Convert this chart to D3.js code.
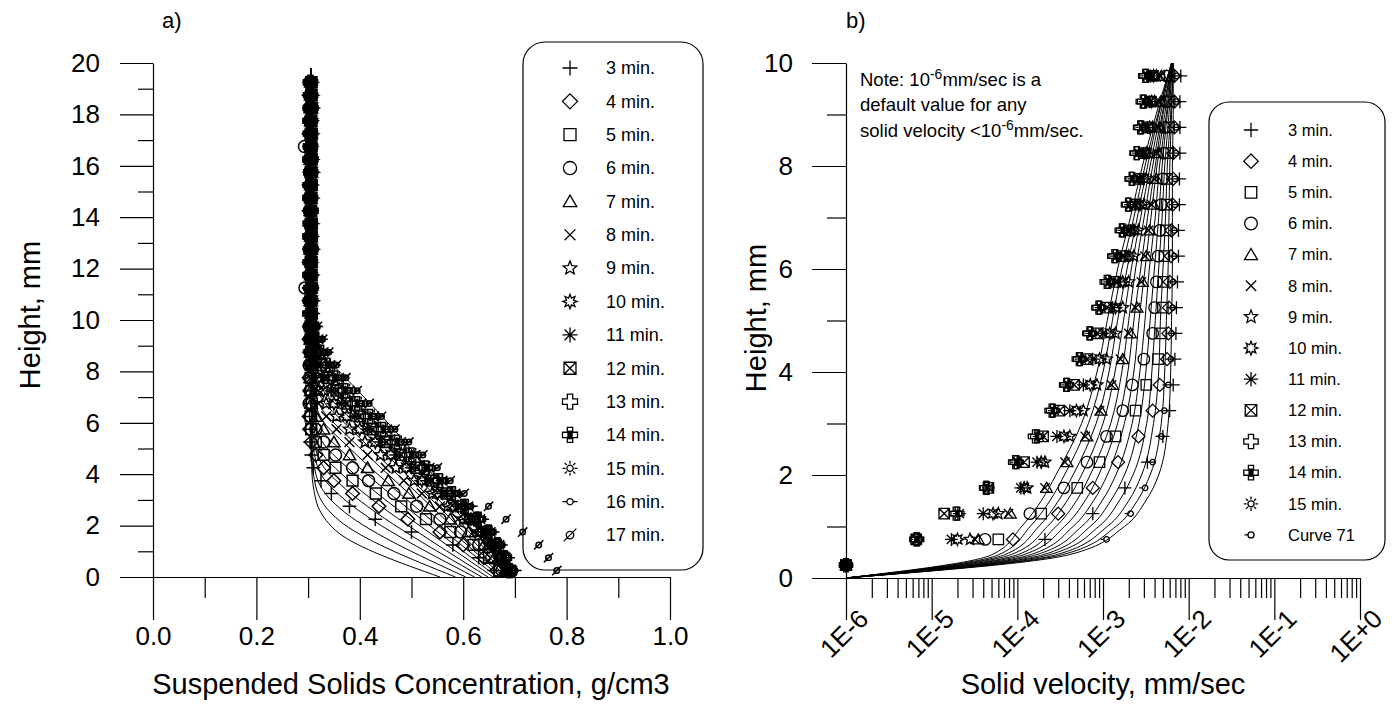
<!DOCTYPE html>
<html>
<head>
<meta charset="utf-8">
<title>Settling profiles</title>
<style>
  body { margin: 0; background: #fff; }
  svg { font-family: "Liberation Sans", Arial, sans-serif; }
  svg text { fill: #000; }
  .axis path, .axis line { stroke: #000; stroke-width: 1.2; }
  .curve { fill: none; stroke: #000; stroke-width: 1; }
  .mark { fill: none; stroke: #000; stroke-width: 1.3; }
  .plot-a .mark { stroke-width: 1.5; }
  .legend-box { fill: none; stroke: #000; stroke-width: 1.2; }
</style>
</head>
<body>
<svg id="chart" width="1392" height="706"></svg>
<script src="https://d3js.org/d3.v7.min.js"></script>
<script>
// ---------- panel a: concentration profiles (g/cm3) at each height (mm)
var heightsA = [0.25, 0.75, 1.25, 1.75, 2.25, 2.75, 3.25, 3.75, 4.25, 4.75,
                5.25, 5.75, 6.25, 6.75, 7.25, 7.75, 8.25, 8.75, 9.25, 9.75,
                10.25, 10.75, 11.25, 11.75, 12.25, 12.75, 13.25, 13.75, 14.25, 14.75,
                15.25, 15.75, 16.25, 16.75, 17.25, 17.75, 18.25, 18.75, 19.25];
var seriesA = ["3 min.", "4 min.", "5 min.", "6 min.", "7 min.", "8 min.", "9 min.", "10 min.",
               "11 min.", "12 min.", "13 min.", "14 min.", "15 min.", "16 min.", "17 min."];
var shapesA = ["plus", "diamond", "square", "circle", "triangle", "cross", "star", "burst",
               "asterisk", "squareX", "crossOpen", "crossFilled", "sun", "dotDash", "slash"];

var conc3 = [0.66, 0.63, 0.58, 0.50, 0.43, 0.38, 0.345, 0.325, 0.31, 0.306,
             0.304, 0.305, 0.303, 0.305, 0.304, 0.306, 0.305, 0.304, 0.305, 0.303,
             0.305, 0.304, 0.306, 0.305, 0.303, 0.305, 0.304, 0.305, 0.306, 0.304,
             0.305, 0.303, 0.305, 0.304, 0.306, 0.305, 0.304, 0.305, 0.305];
var conc4 = [0.665, 0.64, 0.60, 0.555, 0.493, 0.437, 0.386, 0.35, 0.33, 0.315,
             0.306, 0.303, 0.302, 0.304, 0.303, 0.302, 0.304, 0.303, 0.302, 0.303,
             0.304, 0.302, 0.303, 0.304, 0.302, 0.303, 0.303, 0.304, 0.302, 0.303,
             0.302, 0.304, 0.303, 0.303, 0.302, 0.304, 0.303, 0.302, 0.303];
var conc5 = [0.67, 0.65, 0.62, 0.575, 0.528, 0.48, 0.431, 0.386, 0.353, 0.33,
             0.315, 0.306, 0.305, 0.307, 0.306, 0.305, 0.307, 0.306, 0.305, 0.306,
             0.307, 0.305, 0.306, 0.306, 0.307, 0.305, 0.306, 0.307, 0.305, 0.306,
             0.306, 0.305, 0.307, 0.306, 0.305, 0.306, 0.307, 0.306, 0.306];
var conc6 = [0.675, 0.655, 0.63, 0.595, 0.555, 0.51, 0.466, 0.417, 0.386, 0.353,
             0.33, 0.315, 0.305, 0.302, 0.304, 0.303, 0.302, 0.304, 0.303, 0.302,
             0.304, 0.303, 0.294, 0.303, 0.304, 0.302, 0.303, 0.304, 0.303, 0.302,
             0.304, 0.303, 0.302, 0.293, 0.304, 0.303, 0.302, 0.304, 0.303];
var conc7 = [0.68, 0.66, 0.64, 0.61, 0.575, 0.535, 0.495, 0.455, 0.415, 0.38,
             0.35, 0.33, 0.315, 0.306, 0.305, 0.304, 0.306, 0.305, 0.304, 0.305,
             0.306, 0.304, 0.305, 0.305, 0.306, 0.304, 0.305, 0.306, 0.304, 0.305,
             0.305, 0.306, 0.304, 0.305, 0.306, 0.305, 0.304, 0.305, 0.305];
var conc8 = [0.68, 0.665, 0.645, 0.62, 0.59, 0.555, 0.52, 0.485, 0.45, 0.415,
             0.38, 0.355, 0.335, 0.32, 0.31, 0.305, 0.306, 0.307, 0.305, 0.306,
             0.307, 0.306, 0.305, 0.307, 0.306, 0.305, 0.306, 0.307, 0.306, 0.305,
             0.306, 0.307, 0.305, 0.306, 0.306, 0.307, 0.305, 0.306, 0.306];
var conc9 = [0.685, 0.67, 0.65, 0.63, 0.60, 0.57, 0.54, 0.505, 0.47, 0.44,
             0.41, 0.38, 0.355, 0.335, 0.32, 0.31, 0.305, 0.304, 0.306, 0.305,
             0.304, 0.306, 0.305, 0.304, 0.305, 0.306, 0.304, 0.305, 0.306, 0.305,
             0.304, 0.305, 0.306, 0.305, 0.304, 0.306, 0.305, 0.304, 0.305];
var conc10 = [0.685, 0.672, 0.655, 0.635, 0.61, 0.58, 0.55, 0.52, 0.49, 0.46,
              0.43, 0.40, 0.375, 0.35, 0.33, 0.318, 0.31, 0.306, 0.308, 0.307,
              0.308, 0.309, 0.307, 0.308, 0.306, 0.309, 0.307, 0.308, 0.306, 0.308,
              0.307, 0.309, 0.308, 0.306, 0.308, 0.307, 0.309, 0.308, 0.307];
var conc11 = [0.69, 0.675, 0.66, 0.64, 0.615, 0.59, 0.56, 0.53, 0.50, 0.47,
              0.44, 0.415, 0.39, 0.365, 0.345, 0.33, 0.318, 0.31, 0.306, 0.305,
              0.306, 0.305, 0.304, 0.306, 0.305, 0.304, 0.306, 0.305, 0.304, 0.306,
              0.305, 0.304, 0.306, 0.305, 0.304, 0.305, 0.306, 0.305, 0.305];
var conc12 = [0.69, 0.678, 0.663, 0.645, 0.62, 0.595, 0.568, 0.54, 0.51, 0.48,
              0.452, 0.425, 0.40, 0.375, 0.355, 0.338, 0.325, 0.315, 0.308, 0.305,
              0.306, 0.305, 0.307, 0.306, 0.305, 0.306, 0.307, 0.305, 0.306, 0.305,
              0.307, 0.306, 0.305, 0.306, 0.307, 0.305, 0.306, 0.306, 0.306];
var conc13 = [0.69, 0.68, 0.665, 0.648, 0.625, 0.60, 0.575, 0.548, 0.52, 0.49,
              0.462, 0.435, 0.41, 0.385, 0.363, 0.345, 0.33, 0.32, 0.312, 0.306,
              0.303, 0.304, 0.305, 0.303, 0.304, 0.305, 0.303, 0.304, 0.305, 0.303,
              0.304, 0.305, 0.303, 0.304, 0.305, 0.303, 0.304, 0.305, 0.304];
var conc14 = [0.69, 0.68, 0.667, 0.65, 0.63, 0.605, 0.58, 0.555, 0.528, 0.50,
              0.472, 0.445, 0.42, 0.395, 0.372, 0.352, 0.337, 0.325, 0.316, 0.309,
              0.304, 0.305, 0.306, 0.305, 0.304, 0.306, 0.305, 0.304, 0.306, 0.305,
              0.304, 0.305, 0.306, 0.305, 0.304, 0.305, 0.306, 0.305, 0.305];
var conc15 = [0.695, 0.683, 0.67, 0.653, 0.633, 0.61, 0.585, 0.56, 0.535, 0.508,
              0.48, 0.453, 0.428, 0.403, 0.38, 0.36, 0.343, 0.33, 0.32, 0.312,
              0.306, 0.302, 0.305, 0.306, 0.305, 0.307, 0.306, 0.305, 0.307, 0.306,
              0.305, 0.306, 0.307, 0.305, 0.306, 0.305, 0.307, 0.306, 0.306];
var conc16 = [0.70, 0.687, 0.673, 0.657, 0.637, 0.615, 0.59, 0.566, 0.54, 0.514,
              0.487, 0.46, 0.435, 0.41, 0.387, 0.367, 0.35, 0.336, 0.325, 0.316,
              0.309, 0.304, 0.301, 0.304, 0.305, 0.303, 0.304, 0.305, 0.303, 0.304,
              0.305, 0.303, 0.304, 0.305, 0.303, 0.304, 0.305, 0.304, 0.304];
var conc17 = [0.781, 0.765, 0.746, 0.715, 0.683, 0.649, 0.602, 0.575, 0.55, 0.522,
              0.495, 0.468, 0.442, 0.418, 0.395, 0.373, 0.355, 0.34, 0.328, 0.318,
              0.31, 0.305, 0.302, 0.304, 0.303, 0.305, 0.304, 0.303, 0.305, 0.304,
              0.303, 0.305, 0.304, 0.303, 0.305, 0.304, 0.303, 0.305, 0.304];
var concA = [conc3, conc4, conc5, conc6, conc7, conc8, conc9, conc10, conc11,
             conc12, conc13, conc14, conc15, conc16, conc17];

// model curves in panel a, [concentration, height] pairs
var curveA0 = [[0.555, 0], [0.36, 1.7], [0.335, 2.2], [0.32, 2.7], [0.312, 3.3], [0.307, 4.3], [0.305, 19.8]];
var curveA1 = [[0.585, 0], [0.36, 2.2], [0.335, 2.7], [0.32, 3.2], [0.312, 3.8], [0.307, 4.8], [0.305, 19.8]];
var curveA2 = [[0.605, 0], [0.36, 2.7], [0.335, 3.2], [0.32, 3.7], [0.312, 4.3], [0.307, 5.3], [0.305, 19.8]];
var curveA3 = [[0.622, 0], [0.36, 3.2], [0.335, 3.7], [0.32, 4.2], [0.312, 4.8], [0.307, 5.8], [0.305, 19.8]];
var curveA4 = [[0.636, 0], [0.36, 3.65], [0.335, 4.15], [0.32, 4.65], [0.312, 5.25], [0.307, 6.25], [0.305, 19.8]];
var curveA5 = [[0.648, 0], [0.36, 4.1], [0.335, 4.6], [0.32, 5.1], [0.312, 5.7], [0.307, 6.7], [0.305, 19.8]];
var curveA6 = [[0.658, 0], [0.36, 4.55], [0.335, 5.05], [0.32, 5.55], [0.312, 6.15], [0.307, 7.15], [0.305, 19.8]];
var curveA7 = [[0.666, 0], [0.36, 5.0], [0.335, 5.5], [0.32, 6.0], [0.312, 6.6], [0.307, 7.6], [0.305, 19.8]];
var curveA8 = [[0.673, 0], [0.36, 5.4], [0.335, 5.9], [0.32, 6.4], [0.312, 7.0], [0.307, 8.0], [0.305, 19.8]];
var curveA9 = [[0.679, 0], [0.36, 5.8], [0.335, 6.3], [0.32, 6.8], [0.312, 7.4], [0.307, 8.4], [0.305, 19.8]];
var curveA10 = [[0.684, 0], [0.36, 6.2], [0.335, 6.7], [0.32, 7.2], [0.312, 7.8], [0.307, 8.8], [0.305, 19.8]];
var curveA11 = [[0.689, 0], [0.36, 6.6], [0.335, 7.1], [0.32, 7.6], [0.312, 8.2], [0.307, 9.2], [0.305, 19.8]];
var curveA12 = [[0.693, 0], [0.36, 7.0], [0.335, 7.5], [0.32, 8.0], [0.312, 8.6], [0.307, 9.6], [0.305, 19.8]];
var curveA13 = [[0.697, 0], [0.36, 7.5], [0.335, 8.0], [0.32, 8.5], [0.312, 9.1], [0.307, 10.1], [0.305, 19.8]];
var curveA14 = [[0.70, 0], [0.36, 8.0], [0.335, 8.5], [0.32, 9.0], [0.312, 9.6], [0.307, 10.6], [0.305, 19.8]];
var curvesA = [curveA0, curveA1, curveA2, curveA3, curveA4, curveA5, curveA6, curveA7,
               curveA8, curveA9, curveA10, curveA11, curveA12, curveA13, curveA14];

var ticksXA = [0, 0.2, 0.4, 0.6, 0.8, 1.0];
var minorXA = [0.1, 0.3, 0.5, 0.7, 0.9];
var ticksYA = [0, 2, 4, 6, 8, 10, 12, 14, 16, 18, 20];
var minorYA = [1, 3, 5, 7, 9, 11, 13, 15, 17, 19];

// ---------- panel b: solid velocity (mm/sec) at each height (mm)
var heightsB = [0.25, 0.75, 1.25, 1.75, 2.25, 2.75, 3.25, 3.75, 4.25, 4.75,
                5.25, 5.75, 6.25, 6.75, 7.25, 7.75, 8.25, 8.75, 9.25, 9.75];
var seriesB = ["3 min.", "4 min.", "5 min.", "6 min.", "7 min.", "8 min.", "9 min.", "10 min.",
               "11 min.", "12 min.", "13 min.", "14 min.", "15 min.", "Curve 71"];
var shapesB = ["plus", "diamond", "square", "circle", "triangle", "cross", "star", "burst",
               "asterisk", "squareX", "crossOpen", "crossFilled", "sun", "dot"];

var vel3 = [1e-6, 2.1e-4, 7.6e-4, 1.8e-3, 3.3e-3, 5.0e-3, 6.0e-3, 6.6e-3, 6.9e-3, 7.1e-3,
            7.2e-3, 7.4e-3, 7.6e-3, 7.6e-3, 7.8e-3, 7.8e-3, 7.9e-3, 7.9e-3, 7.9e-3, 8.1e-3];
var vel4 = [1e-6, 8.9e-5, 3.0e-4, 7.6e-4, 1.5e-3, 2.6e-3, 3.8e-3, 4.6e-3, 5.6e-3, 5.8e-3,
            5.9e-3, 6.0e-3, 6.2e-3, 6.3e-3, 6.5e-3, 6.6e-3, 6.6e-3, 6.8e-3, 6.8e-3, 6.8e-3];
var vel5 = [1e-6, 6.0e-5, 1.9e-4, 5.0e-4, 9.1e-4, 1.4e-3, 2.4e-3, 3.2e-3, 4.4e-3, 4.8e-3,
            5.0e-3, 5.1e-3, 5.2e-3, 5.4e-3, 5.5e-3, 5.6e-3, 5.8e-3, 5.9e-3, 6.0e-3, 6.0e-3];
var vel6 = [1e-6, 4.2e-5, 1.4e-4, 3.5e-4, 6.5e-4, 1.1e-3, 1.7e-3, 2.2e-3, 3.0e-3, 3.8e-3,
            4.0e-3, 4.2e-3, 4.4e-3, 4.6e-3, 4.8e-3, 5.0e-3, 5.1e-3, 5.2e-3, 5.4e-3, 5.5e-3];
var vel7 = [1e-6, 3.5e-5, 8.3e-5, 2.2e-4, 3.8e-4, 6.5e-4, 9.5e-4, 1.3e-3, 1.7e-3, 2.1e-3,
            2.5e-3, 2.9e-3, 3.2e-3, 3.5e-3, 3.9e-3, 4.2e-3, 4.4e-3, 4.6e-3, 4.7e-3, 4.8e-3];
var vel8 = [1e-6, 3.2e-5, 7.9e-5, 2.1e-4, 3.6e-4, 6.2e-4, 9.1e-4, 1.26e-3, 1.6e-3, 2.0e-3,
            2.4e-3, 2.8e-3, 3.1e-3, 3.4e-3, 3.7e-3, 4.0e-3, 4.3e-3, 4.5e-3, 4.6e-3, 4.7e-3];
var vel9 = [1e-6, 2.8e-5, 6.0e-5, 1.3e-4, 2.1e-4, 4.1e-4, 5.9e-4, 8.5e-4, 1.1e-3, 1.4e-3,
            1.7e-3, 2.0e-3, 2.3e-3, 2.6e-3, 3.0e-3, 3.2e-3, 3.5e-3, 3.8e-3, 4.0e-3, 4.2e-3];
var vel10 = [1e-6, 2.0e-5, 5.2e-5, 1.2e-4, 1.9e-4, 3.5e-4, 4.9e-4, 7.1e-4, 9.1e-4, 1.2e-3,
             1.4e-3, 1.7e-3, 2.0e-3, 2.3e-3, 2.7e-3, 3.0e-3, 3.2e-3, 3.5e-3, 3.7e-3, 3.9e-3];
var vel11 = [1e-6, 1.7e-5, 4.0e-5, 1.1e-4, 1.7e-4, 2.9e-4, 4.1e-4, 5.9e-4, 7.6e-4, 1.0e-3,
             1.3e-3, 1.5e-3, 1.8e-3, 2.1e-3, 2.4e-3, 2.7e-3, 3.0e-3, 3.3e-3, 3.5e-3, 3.6e-3];
var vel12 = [1e-6, 6.6e-6, 1.4e-5, 4.6e-5, 1.2e-4, 2.0e-4, 3.1e-4, 4.6e-4, 6.5e-4, 8.5e-4,
             1.1e-3, 1.4e-3, 1.7e-3, 2.0e-3, 2.4e-3, 2.6e-3, 3.0e-3, 3.3e-3, 3.6e-3, 3.8e-3];
var vel13 = [1e-6, 6.6e-6, 1.9e-5, 4.3e-5, 9.4e-5, 1.6e-4, 2.5e-4, 3.7e-4, 5.2e-4, 6.9e-4,
             8.8e-4, 1.1e-3, 1.35e-3, 1.65e-3, 1.95e-3, 2.15e-3, 2.45e-3, 2.7e-3, 2.9e-3, 3.1e-3];
var vel14 = [1e-6, 6.8e-6, 2.0e-5, 4.4e-5, 9.8e-5, 1.7e-4, 2.6e-4, 3.8e-4, 5.4e-4, 7.1e-4,
             9.1e-4, 1.15e-3, 1.4e-3, 1.7e-3, 2.0e-3, 2.2e-3, 2.5e-3, 2.8e-3, 3.0e-3, 3.2e-3];
var vel15 = [1e-6, 6.8e-6, 2.1e-5, 4.6e-5, 1.0e-4, 1.8e-4, 2.7e-4, 3.9e-4, 5.6e-4, 7.4e-4,
             9.5e-4, 1.2e-3, 1.45e-3, 1.75e-3, 2.1e-3, 2.3e-3, 2.6e-3, 2.9e-3, 3.1e-3, 3.3e-3];
var velC71 = [1e-6, 1.1e-3, 2.1e-3, 3.1e-3, 3.8e-3, 4.8e-3, 5.2e-3, 5.8e-3, 6.2e-3, 6.3e-3,
              6.5e-3, 6.6e-3, 6.8e-3, 6.8e-3, 6.9e-3, 6.9e-3, 7.1e-3, 7.1e-3, 7.1e-3, 7.2e-3];
var velB = [vel3, vel4, vel5, vel6, vel7, vel8, vel9, vel10, vel11, vel12, vel13, vel14, vel15, velC71];

// model curves in panel b: log10 of velocity at these heights
var curveHeightsB = [0, 0.45, 1, 1.5, 2, 3, 4, 5, 6, 7, 8, 9, 10];
var curveLogB0 = [-6, -4.30, -3.95, -3.72, -3.55, -3.25, -3.07, -2.95, -2.83, -2.68, -2.54, -2.38, -2.20];
var curveLogB1 = [-6, -4.22, -3.85, -3.62, -3.45, -3.17, -3.00, -2.89, -2.78, -2.64, -2.51, -2.36, -2.20];
var curveLogB2 = [-6, -4.15, -3.75, -3.52, -3.35, -3.08, -2.93, -2.83, -2.72, -2.60, -2.48, -2.35, -2.20];
var curveLogB3 = [-6, -4.08, -3.65, -3.42, -3.25, -3.00, -2.86, -2.76, -2.67, -2.56, -2.45, -2.33, -2.20];
var curveLogB4 = [-6, -4.00, -3.55, -3.31, -3.15, -2.91, -2.78, -2.70, -2.62, -2.52, -2.42, -2.31, -2.19];
var curveLogB5 = [-6, -3.93, -3.45, -3.21, -3.05, -2.83, -2.71, -2.64, -2.56, -2.48, -2.39, -2.30, -2.19];
var curveLogB6 = [-6, -3.85, -3.35, -3.11, -2.95, -2.75, -2.64, -2.58, -2.51, -2.44, -2.37, -2.28, -2.19];
var curveLogB7 = [-6, -3.78, -3.25, -3.01, -2.85, -2.66, -2.57, -2.51, -2.46, -2.39, -2.34, -2.26, -2.19];
var curveLogB8 = [-6, -3.70, -3.15, -2.91, -2.75, -2.58, -2.50, -2.45, -2.40, -2.35, -2.31, -2.25, -2.19];
var curveLogB9 = [-6, -3.63, -3.05, -2.81, -2.65, -2.49, -2.43, -2.39, -2.35, -2.31, -2.28, -2.23, -2.19];
var curveLogB10 = [-6, -3.55, -2.95, -2.70, -2.55, -2.41, -2.35, -2.33, -2.30, -2.27, -2.25, -2.21, -2.18];
var curveLogB11 = [-6, -3.48, -2.85, -2.60, -2.45, -2.32, -2.28, -2.26, -2.24, -2.23, -2.22, -2.20, -2.18];
var curveLogB12 = [-6, -3.40, -2.75, -2.50, -2.35, -2.24, -2.21, -2.20, -2.19, -2.19, -2.19, -2.18, -2.18];
var curvesB = [curveLogB0, curveLogB1, curveLogB2, curveLogB3, curveLogB4, curveLogB5, curveLogB6,
               curveLogB7, curveLogB8, curveLogB9, curveLogB10, curveLogB11, curveLogB12];

var ticksXB = [1e-6, 1e-5, 1e-4, 1e-3, 1e-2, 1e-1, 1];
var tickLabelsXB = ["1E-6", "1E-5", "1E-4", "1E-3", "1E-2", "1E-1", "1E+0"];
var ticksYB = [0, 2, 4, 6, 8, 10];
var minorYB = [1, 3, 5, 7, 9];

// ---------- drawing
var svg = d3.select("#chart");

var xA = d3.scaleLinear().domain([0, 1]).range([153, 670]);
var yA = d3.scaleLinear().domain([0, 20]).range([577, 63]);
var xB = d3.scaleLog().domain([1e-6, 1]).range([846, 1360]);
var yB = d3.scaleLinear().domain([0, 10]).range([578, 63]);

// marker outlines, returns [outline path, filled path or null]
function markShape(type, r) {
  var o = d3.path(), f = d3.path(), hasFill = false;
  var s = r * 0.8, a = r * 0.36, k = r * 0.72;
  function ring(p, rr) { p.moveTo(rr, 0); p.arc(0, 0, rr, 0, 2 * Math.PI); }
  function seg(x1, y1, x2, y2) { o.moveTo(x1, y1); o.lineTo(x2, y2); }
  function poly(pts) {
    o.moveTo(pts[0][0], pts[0][1]);
    for (var i = 1; i < pts.length; i++) o.lineTo(pts[i][0], pts[i][1]);
    o.closePath();
  }
  function star(n, ro, ri) {
    var pts = [];
    for (var i = 0; i < 2 * n; i++) {
      var ang = -Math.PI / 2 + i * Math.PI / n, rr = i % 2 ? ri : ro;
      pts.push([rr * Math.cos(ang), rr * Math.sin(ang)]);
    }
    poly(pts);
  }
  var sq = [[-s, -s], [s, -s], [s, s], [-s, s]];
  var crossPts = [[-a, -r], [a, -r], [a, -a], [r, -a], [r, a], [a, a], [a, r], [-a, r], [-a, a], [-r, a], [-r, -a], [-a, -a]];
  switch (type) {
    case "plus": seg(-r, 0, r, 0); seg(0, -r, 0, r); break;
    case "diamond": poly([[0, -r], [r, 0], [0, r], [-r, 0]]); break;
    case "square": poly(sq); break;
    case "circle": ring(o, r * 0.88); break;
    case "triangle": poly([[0, -r * 0.85], [r * 0.9, r * 0.7], [-r * 0.9, r * 0.7]]); break;
    case "cross": seg(-k, -k, k, k); seg(k, -k, -k, k); break;
    case "star": star(5, r * 0.95, r * 0.42); break;
    case "burst": star(8, r * 0.95, r * 0.5); break;
    case "asterisk":
      seg(-r, 0, r, 0); seg(0, -r, 0, r); seg(-k, -k, k, k); seg(k, -k, -k, k);
      ring(f, r * 0.2); hasFill = true; break;
    case "squareX": poly(sq); seg(-s, -s, s, s); seg(s, -s, -s, s); break;
    case "crossOpen": poly(crossPts); break;
    case "crossFilled": poly(crossPts); f.rect(-a, -a * 1.6, 2 * a, 3.2 * a); hasFill = true; break;
    case "sun":
      ring(o, r * 0.42);
      for (var i = 0; i < 8; i++) {
        var ang = i * Math.PI / 4;
        seg(r * 0.6 * Math.cos(ang), r * 0.6 * Math.sin(ang), r * Math.cos(ang), r * Math.sin(ang));
      }
      break;
    case "dotDash": ring(o, r * 0.42); seg(-r, 0, -r * 0.42, 0); seg(r * 0.42, 0, r, 0); break;
    case "slash": ring(o, r * 0.5); seg(-r * 0.85, r * 0.85, r * 0.85, -r * 0.85); break;
    case "dot": ring(o, r * 0.42); seg(-r * 0.9, 0, -r * 0.42, 0); break;
  }
  return [o.toString(), hasFill ? f.toString() : null];
}

function drawMarks(g, pts, type, r) {
  var shape = markShape(type, r);
  var m = g.selectAll("g.pt").data(pts).join("g").attr("class", "pt")
    .attr("transform", function (d) { return "translate(" + d[0] + "," + d[1] + ")"; });
  m.append("path").attr("class", "mark").attr("d", shape[0]);
  if (shape[1]) m.append("path").attr("d", shape[1]).attr("fill", "#000");
}

function styleAxis(g, size) {
  g.attr("font-family", null).attr("font-size", size);
}

// ----- panel a axes
var axA = svg.append("g");
axA.append("g").attr("class", "axis").attr("transform", "translate(0,577)")
  .call(d3.axisBottom(xA).tickValues(ticksXA).tickSize(43).tickPadding(7).tickSizeOuter(0)
    .tickFormat(d3.format(".1f")))
  .call(styleAxis, 26);
axA.append("g").attr("class", "axis").attr("transform", "translate(0,577)")
  .call(d3.axisBottom(xA).tickValues(minorXA).tickSize(21).tickFormat(""))
  .call(function (g) { g.select(".domain").remove(); });
axA.append("g").attr("class", "axis").attr("transform", "translate(153,0)")
  .call(d3.axisLeft(yA).tickValues(ticksYA).tickSize(33).tickPadding(20).tickSizeOuter(0))
  .call(styleAxis, 26);
axA.append("g").attr("class", "axis").attr("transform", "translate(153,0)")
  .call(d3.axisLeft(yA).tickValues(minorYA).tickSize(15).tickFormat(""))
  .call(function (g) { g.select(".domain").remove(); });

// ----- panel b axes
var minorXB = xB.ticks().filter(function (v) { return ticksXB.indexOf(v) < 0; });
var axB = svg.append("g");
var xAxisB = axB.append("g").attr("class", "axis").attr("transform", "translate(0,578)")
  .call(d3.axisBottom(xB).tickValues(ticksXB).tickSize(42).tickSizeOuter(0)
    .tickFormat(function (d, i) { return tickLabelsXB[i]; }))
  .call(styleAxis, 26);
xAxisB.selectAll(".tick text")
  .attr("x", 0).attr("y", 0).attr("dy", "0.35em")
  .attr("text-anchor", "end")
  .attr("transform", "translate(17,36) rotate(-45)");
axB.append("g").attr("class", "axis").attr("transform", "translate(0,578)")
  .call(d3.axisBottom(xB).tickValues(minorXB).tickSize(20).tickFormat(""))
  .call(function (g) { g.select(".domain").remove(); });
axB.append("g").attr("class", "axis").attr("transform", "translate(846,0)")
  .call(d3.axisLeft(yB).tickValues(ticksYB).tickSize(34).tickPadding(19).tickSizeOuter(0))
  .call(styleAxis, 26);
axB.append("g").attr("class", "axis").attr("transform", "translate(846,0)")
  .call(d3.axisLeft(yB).tickValues(minorYB).tickSize(19).tickFormat(""))
  .call(function (g) { g.select(".domain").remove(); });

// ----- panel a curves and markers
var plotA = svg.append("g").attr("class", "plot-a");
var lineA = d3.line().x(function (d) { return xA(d[0]); }).y(function (d) { return yA(d[1]); })
  .curve(d3.curveMonotoneY);
plotA.selectAll("path.curve").data(curvesA).join("path").attr("class", "curve")
  .attr("d", function (c) { return lineA(c.slice().reverse()); });
concA.forEach(function (vals, i) {
  var pts = vals.map(function (v, j) { return [xA(v), yA(heightsA[j])]; });
  drawMarks(plotA.append("g"), pts, shapesA[i], i === 14 ? 5.5 : 6.8);
});

// ----- panel b curves and markers
var plotB = svg.append("g");
var lineB = d3.line()
  .x(function (d) { return xB(Math.pow(10, d[0])); }).y(function (d) { return yB(d[1]); })
  .curve(d3.curveMonotoneY);
plotB.selectAll("path.curve").data(curvesB).join("path").attr("class", "curve")
  .attr("d", function (c) {
    var pts = c.map(function (v, j) { return [v, curveHeightsB[j]]; });
    return lineB(pts.reverse());
  });
velB.forEach(function (vals, i) {
  var pts = vals.map(function (v, j) { return [xB(v), yB(heightsB[j])]; });
  drawMarks(plotB.append("g"), pts, shapesB[i], 6.5);
});

// ----- legends
var legA = svg.append("g");
legA.append("rect").attr("class", "legend-box")
  .attr("x", 523).attr("y", 42).attr("width", 180).attr("height", 528).attr("rx", 22);
seriesA.forEach(function (name, i) {
  var y = 68 + i * 33.36;
  drawMarks(legA.append("g"), [[570, y]], shapesA[i], 7.5);
  legA.append("text").attr("x", 606).attr("y", y).attr("dy", "0.35em")
    .attr("font-size", 18).text(name);
});

var legB = svg.append("g");
legB.append("rect").attr("class", "legend-box")
  .attr("x", 1209).attr("y", 102).attr("width", 176).attr("height", 458).attr("rx", 20);
seriesB.forEach(function (name, i) {
  var y = 130 + i * 31.15;
  drawMarks(legB.append("g"), [[1251, y]], shapesB[i], 7.2);
  legB.append("text").attr("x", 1288).attr("y", y).attr("dy", "0.35em")
    .attr("font-size", 16.5).text(name);
});

// ----- titles and notes
svg.append("text").attr("x", 162).attr("y", 28).attr("font-size", 22).text("a)");
svg.append("text").attr("x", 846).attr("y", 28).attr("font-size", 22).text("b)");

svg.append("text").attr("transform", "translate(40,315) rotate(-90)")
  .attr("text-anchor", "middle").attr("font-size", 29).text("Height, mm");
svg.append("text").attr("transform", "translate(766,318) rotate(-90)")
  .attr("text-anchor", "middle").attr("font-size", 29).text("Height, mm");
svg.append("text").attr("x", 411).attr("y", 694)
  .attr("text-anchor", "middle").attr("font-size", 29).text("Suspended Solids Concentration, g/cm3");
svg.append("text").attr("x", 1103).attr("y", 694)
  .attr("text-anchor", "middle").attr("font-size", 29).text("Solid velocity, mm/sec");

var note = svg.append("g").attr("font-size", 18.5);
var n1 = note.append("text").attr("x", 860).attr("y", 86);
n1.append("tspan").text("Note: 10");
n1.append("tspan").attr("dy", -7).attr("font-size", 14).text("-6");
n1.append("tspan").attr("dy", 7).text("mm/sec is a");
note.append("text").attr("x", 860).attr("y", 111).text("default value for any");
var n3 = note.append("text").attr("x", 860).attr("y", 137);
n3.append("tspan").text("solid velocity <10");
n3.append("tspan").attr("dy", -7).attr("font-size", 14).text("-6");
n3.append("tspan").attr("dy", 7).text("mm/sec.");
</script>
</body>
</html>
